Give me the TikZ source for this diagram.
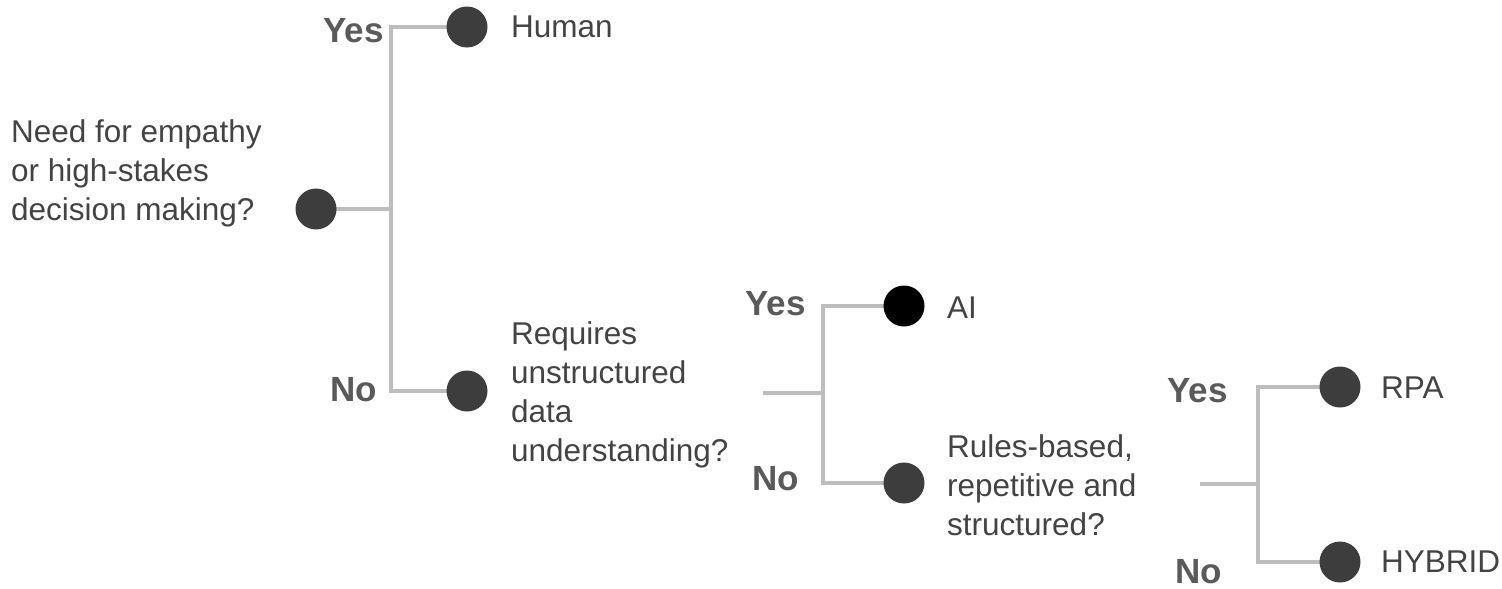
\documentclass[tikz,border=0pt]{standalone}
\usepackage{fontspec}
\setmainfont{Liberation Sans}
\usetikzlibrary{backgrounds}
\definecolor{dotgray}{HTML}{3D3D3D}
\definecolor{linegray}{HTML}{BDBDBD}
\definecolor{txtgray}{HTML}{434343}
\definecolor{lblgray}{HTML}{5A5A5A}
\tikzset{
  dot/.style={circle, fill=dotgray, minimum size=41pt, inner sep=0pt},
  conn/.style={draw=linegray, line width=3.2pt},
  body/.style={anchor=base west, inner sep=0pt, text=txtgray, font=\fontsize{31.5}{39}\selectfont},
  yn/.style={anchor=base east, inner sep=0pt, text=lblgray, font=\fontsize{35}{40}\selectfont\bfseries}
}
\newcommand{\lines}[1]{\vtop{\baselineskip=39pt\lineskiplimit=-100pt #1}}
\begin{document}
\begin{tikzpicture}[x=1pt,y=-1pt]
\useasboundingbox (0,0) rectangle (1502,589);
% tree 1
\node[dot] (root) at (316,209) {};
\node[dot] (human) at (467,27) {};
\node[dot] (q2dot) at (467,391) {};
\coordinate (j1) at (391,209);
% tree 2
\coordinate (q2) at (763,393);
\coordinate (j2) at (823,393);
\node[dot, fill=black] (ai) at (904,306) {};
\node[dot] (q3dot) at (904,483) {};
% tree 3
\coordinate (q3) at (1200,484);
\coordinate (j3) at (1258,484);
\node[dot] (rpa) at (1340,387) {};
\node[dot] (hybrid) at (1340,562) {};
\begin{scope}[on background layer]
\draw[conn] (root.center) -- (j1);
\draw[conn] (human.center) -| (j1);
\draw[conn] (q2dot.center) -| (j1);
\draw[conn] (q2) -- (j2);
\draw[conn] (ai.center) -| (j2);
\draw[conn] (q3dot.center) -| (j2);
\draw[conn] (q3) -- (j3);
\draw[conn] (rpa.center) -| (j3);
\draw[conn] (hybrid.center) -| (j3);
\end{scope}
% texts
\node[body] (tq1) at (11,142) {\lines{\hbox{Need for empathy}\hbox{or high-stakes}\hbox{decision making?}}};
\node[body] (thuman) at (511,37) {Human};
\node[body] (tq2) at (511,344) {\lines{\hbox{Requires}\hbox{unstructured}\hbox{data}\hbox{understanding?}}};
\node[body] (tai) at (947,318) {AI};
\node[body] (tq3) at (947,457) {\lines{\hbox{Rules-based,}\hbox{repetitive and}\hbox{structured?}}};
\node[body] (trpa) at (1381,398) {RPA};
\node[body] (thybrid) at (1381,572) {HYBRID};
% yes/no labels
\node[yn] (y1) at (384,42) {Yes};
\node[yn] (n1) at (377,401) {No};
\node[yn] (y2) at (806,315) {Yes};
\node[yn] (n2) at (799,490) {No};
\node[yn] (y3) at (1228,402) {Yes};
\node[yn] (n3) at (1222,583) {No};
\end{tikzpicture}
\end{document}
